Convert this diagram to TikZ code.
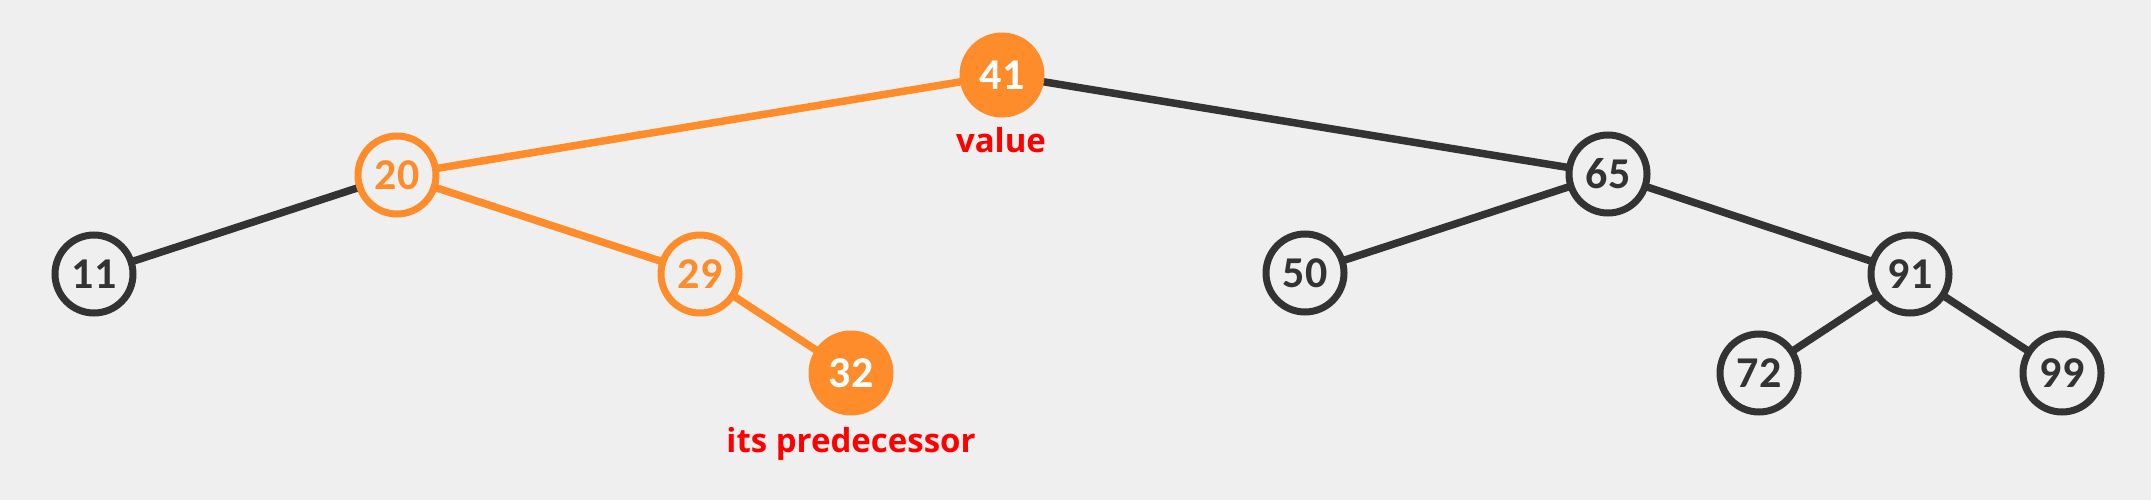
\documentclass[tikz,border=0pt]{standalone}
\usepackage{fontspec}
\setmainfont{Open Sans}
\newfontfamily\numfont{Carlito}
\usetikzlibrary{backgrounds}
\definecolor{bg}{HTML}{EFEFEF}
\definecolor{org}{HTML}{FF8C2A}
\definecolor{drk}{HTML}{333333}
\definecolor{lblred}{HTML}{FF0000}
\tikzset{
  bnode/.style={circle, minimum size=78pt, inner sep=0pt, outer sep=0pt, line width=7pt,
    font=\numfont\bfseries\fontsize{44}{44}\selectfont},
  plain/.style={bnode, draw=drk, fill=bg, text=drk},
  hollow/.style={bnode, draw=org, fill=bg, text=org},
  filled/.style={bnode, draw=org, fill=org, text=white},
  dedge/.style={line width=7.5pt, drk},
  oedge/.style={line width=7.5pt, org},
  lbl/.style={anchor=base, text=lblred, font=\bfseries\fontsize{33}{33}\selectfont}
}
\begin{document}
\begin{tikzpicture}[x=1pt, y=-1pt]
\useasboundingbox (0,0) rectangle (2151,500);
\node[filled] (n41) at (1002,75) {41};
\node[hollow] (n20) at (397,175) {20};
\node[plain]  (n65) at (1608,174) {65};
\node[plain]  (n11) at (94,274) {11};
\node[hollow] (n29) at (700,274) {29};
\node[plain]  (n50) at (1305,273) {50};
\node[plain]  (n91) at (1910,274) {91};
\node[filled] (n32) at (851,373) {32};
\node[plain]  (n72) at (1759,373) {72};
\node[plain]  (n99) at (2062,373) {99};
\node[lbl] (lv) at (1001,152) {value};
\node[lbl] (lp) at (851,452) {its predecessor};
\begin{scope}[on background layer]
\fill[bg] (0,0) rectangle (2151,500);
\draw[oedge] (n41.center) -- (n20.center);
\draw[dedge] (n41.center) -- (n65.center);
\draw[dedge] (n20.center) -- (n11.center);
\draw[oedge] (n20.center) -- (n29.center);
\draw[oedge] (n29.center) -- (n32.center);
\draw[dedge] (n65.center) -- (n50.center);
\draw[dedge] (n65.center) -- (n91.center);
\draw[dedge] (n91.center) -- (n72.center);
\draw[dedge] (n91.center) -- (n99.center);
\end{scope}
\end{tikzpicture}
\end{document}
